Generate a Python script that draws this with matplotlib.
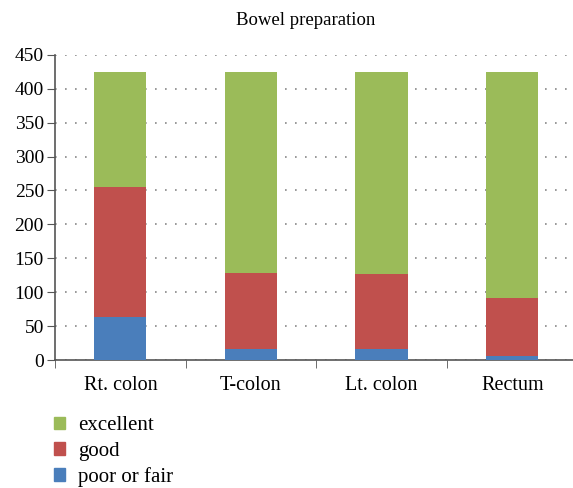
import numpy as np
import matplotlib.pyplot as plt
from matplotlib.patches import Patch

# Данные
categories = ['Rt. colon', 'T-colon', 'Lt. colon', 'Rectum']
poor_or_fair = [64, 17, 16, 7]
good = [191, 112, 111, 84]
excellent = [169, 295, 297, 333]

green = '#9BBB59'
red = '#C0504D'
blue = '#4A7EBB'

plt.rcParams['font.family'] = ['Liberation Serif', 'DejaVu Serif']

fig = plt.figure(figsize=(5.73, 4.88), dpi=100)
ax = fig.add_axes([0.096, 0.2617, 0.912, 0.6263])

x = np.arange(len(categories))
w = 0.4
poor_arr = np.array(poor_or_fair)
good_arr = np.array(good)
exc_arr = np.array(excellent)

ax.bar(x, poor_arr, w, color=blue, zorder=3)
ax.bar(x, good_arr, w, bottom=poor_arr, color=red, zorder=3)
ax.bar(x, exc_arr, w, bottom=poor_arr + good_arr, color=green, zorder=3)

ax.set_xlim(-0.5, 3.5)
ax.set_ylim(0, 450)
ax.set_yticks(np.arange(0, 451, 50))
ax.set_xticks(x)
ax.set_xticklabels(categories, fontsize=14.5)
ax.set_xticks(np.arange(-0.5, 3.6, 1), minor=True)
ax.tick_params(axis='x', which='major', length=0, pad=11)
ax.tick_params(axis='x', which='minor', length=6, direction='out', color='#555555')
ax.tick_params(axis='y', length=6, direction='out', color='#555555', labelsize=14, pad=2)

ax.grid(axis='y', linestyle=(0, (1, 5)), color='#888888', linewidth=1.2, zorder=0)
for s in ['top', 'right']:
    ax.spines[s].set_visible(False)
ax.spines['left'].set_color('#555555')
ax.spines['bottom'].set_color('#555555')
ax.spines['left'].set_linewidth(1.2)
ax.spines['bottom'].set_linewidth(1.2)

fig.text(0.533, 0.957, 'Bowel preparation', ha='center', va='center', fontsize=13.5)

handles = [Patch(color=green, label='excellent'),
           Patch(color=red, label='good'),
           Patch(color=blue, label='poor or fair')]
fig.legend(handles=handles, loc='upper left', bbox_to_anchor=(0.076, 0.168),
           frameon=False, fontsize=15, handlelength=0.55, handleheight=0.55,
           handletextpad=0.6, labelspacing=0.3, borderpad=0)

fig.savefig('out.png', dpi=100)
